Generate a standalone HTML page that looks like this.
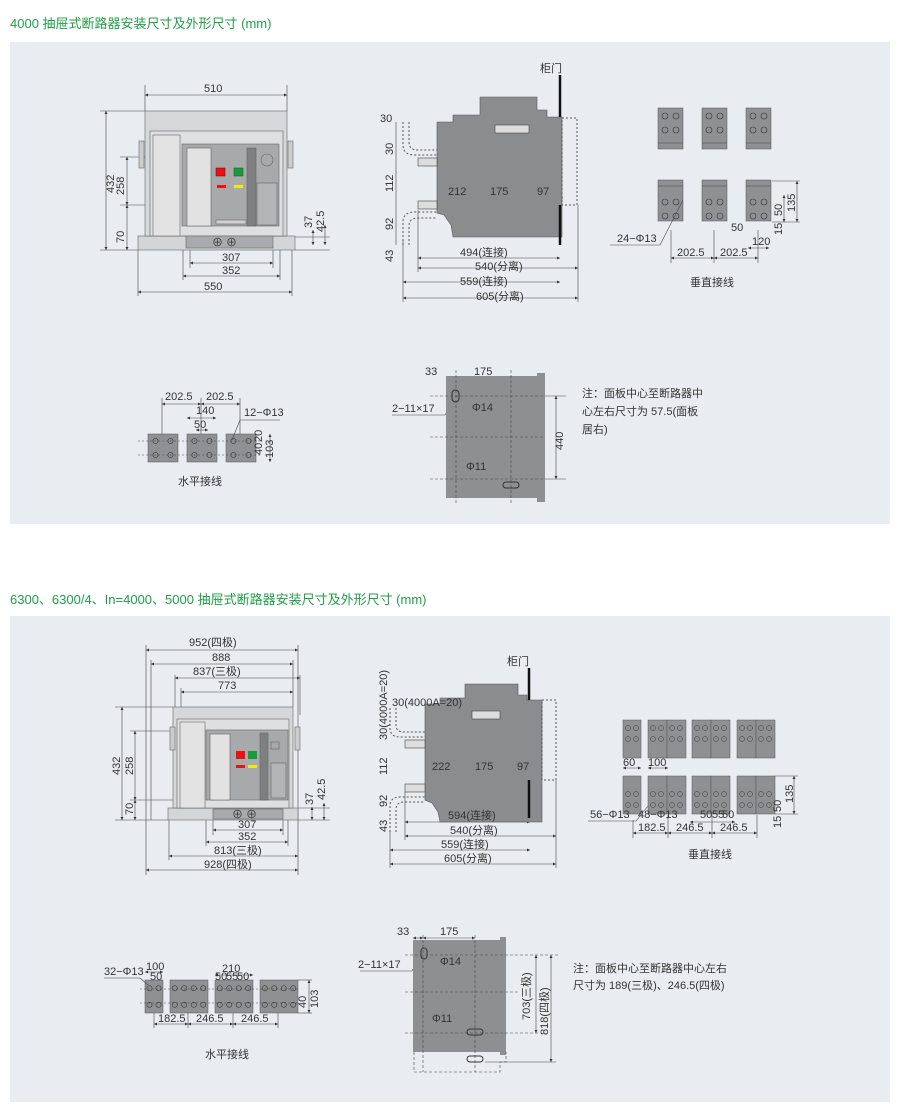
<!DOCTYPE html>
<html><head><meta charset="utf-8">
<style>
html,body{margin:0;padding:0;background:#fff;}
body{width:900px;height:1109px;overflow:hidden;position:relative;font-family:"Liberation Sans","Noto Sans CJK SC",sans-serif;}
.t{position:absolute;left:10px;color:#1fa046;font-size:13px;font-family:"Liberation Sans","Noto Sans CJK SC",sans-serif;white-space:nowrap;}
svg{position:absolute;left:0;top:0;}
svg text{font-family:"Liberation Sans","Noto Sans CJK SC",sans-serif;fill:#333;font-size:11px;}
</style></head><body>
<div class="t" style="top:13px">4000 抽屉式断路器安装尺寸及外形尺寸 (mm)</div>
<div class="t" style="top:589px">6300、6300/4、In=4000、5000 抽屉式断路器安装尺寸及外形尺寸 (mm)</div>
<svg id="s" width="900" height="1109" viewBox="0 0 900 1109">
<defs>
<marker id="a" viewBox="0 0 6 6" refX="6" refY="3" markerWidth="5" markerHeight="5" orient="auto-start-reverse"><path d="M0,0L6,3L0,6z" fill="#333"/></marker>
</defs>
<rect x="10" y="42" width="880" height="482" fill="#e9edf1"/>
<rect x="10" y="616" width="880" height="486" fill="#e9edf1"/>
<g id="g" stroke-width="0.8"></g>
<!-- ===== Front view 1 ===== -->
<g stroke="#666" stroke-width="0.6">
<rect x="138" y="236" width="157" height="14" fill="#d4d5d6"/>
<rect x="145" y="111" width="142" height="125" fill="#d6d7d8"/>
<rect x="150" y="131" width="133" height="105" fill="#dedfe0"/>
<rect x="153" y="135" width="27" height="101" fill="#e3e3e4"/>
<rect x="182" y="144" width="97" height="82" fill="#a8a9ab"/>
<rect x="187" y="148" width="24" height="78" fill="#e2e2e2"/>
<rect x="247" y="148" width="9" height="78" fill="#7e7f81"/>
<rect x="257" y="183" width="20" height="42" fill="#b3b4b6"/>
<circle cx="267" cy="160" r="6" fill="none"/>
<rect x="216" y="220" width="30" height="4" fill="#d0d0d0"/>
<rect x="186" y="236" width="87" height="12" fill="#a9aaac"/>
<rect x="139" y="141" width="5" height="27" fill="#ccc"/>
<rect x="288" y="141" width="5" height="27" fill="#ccc"/>
</g>
<rect x="216" y="168" width="9" height="8" fill="#e11" stroke="#600" stroke-width=".5"/>
<rect x="234" y="168" width="9" height="8" fill="#1a9a3a" stroke="#060" stroke-width=".5"/>
<rect x="217" y="185" width="9" height="3" fill="#e11"/>
<rect x="234" y="185" width="9" height="3" fill="#ee0"/>
<text x="212" y="246" font-size="10">⊕ ⊕</text>
<!-- ===== Side view 1 ===== -->
<polygon points="437,122 453,122 453,115 480,115 480,97 537,97 537,110 547,110 547,117 562,117 562,237 453,237 451,225 444,215 437,213" fill="#8b8c8e" stroke="#555" stroke-width=".6"/>
<rect x="495" y="125" width="34" height="8" fill="#ddd" stroke="#444" stroke-width=".6"/>
<rect x="418" y="158" width="19" height="8" fill="#ddd" stroke="#444" stroke-width=".6"/>
<rect x="418" y="201" width="19" height="8" fill="#ddd" stroke="#444" stroke-width=".6"/>
<line x1="560" y1="75" x2="560" y2="117" stroke="#111" stroke-width="2.5"/>
<line x1="560" y1="205" x2="560" y2="245" stroke="#111" stroke-width="2.5"/>
<rect x="562" y="118" width="15" height="87" fill="none" stroke="#555" stroke-dasharray="2,2"/>
<path d="M403,122 V145 Q403,155 415,155 H437 M409,122 V142 Q409,150 418,150 H437" fill="none" stroke="#555" stroke-dasharray="2,2"/>
<path d="M403,245 V222 Q403,212 415,212 H437 M409,245 V226 Q409,218 418,218 H437" fill="none" stroke="#555" stroke-dasharray="2,2"/>
<!-- ===== Panel view 1 ===== -->
<rect x="446" y="376" width="91" height="122" fill="#8e8f91"/>
<rect x="537" y="373" width="8" height="129" fill="#8e8f91"/>
<g stroke="#444" stroke-dasharray="3,2" stroke-width=".6" fill="none">
<line x1="430" y1="396" x2="545" y2="396"/><line x1="430" y1="437" x2="545" y2="437"/><line x1="430" y1="479" x2="545" y2="479"/>
<line x1="456" y1="370" x2="456" y2="505"/><line x1="511" y1="370" x2="511" y2="505"/>
</g>
<rect x="452" y="390" width="7" height="12" rx="3.5" fill="none" stroke="#333"/>
<rect x="503" y="482" width="16" height="6" rx="3" fill="none" stroke="#333"/>
<!-- ===== Front view 2 ===== -->
<g stroke="#666" stroke-width="0.6">
<rect x="168" y="808" width="130" height="12" fill="#d4d5d6"/>
<rect x="173" y="707" width="120" height="101" fill="#d6d7d8"/>
<rect x="177" y="719" width="112" height="89" fill="#dedfe0"/>
<rect x="180" y="722" width="25" height="86" fill="#e3e3e4"/>
<rect x="206" y="730" width="82" height="70" fill="#a8a9ab"/>
<rect x="210" y="734" width="20" height="66" fill="#e2e2e2"/>
<rect x="260" y="733" width="8" height="67" fill="#7e7f81"/>
<rect x="271" y="763" width="15" height="35" fill="#b3b4b6"/>
<rect x="271" y="742" width="8" height="7" fill="none"/>
<rect x="213" y="809" width="70" height="10" fill="#a9aaac"/>
<rect x="170" y="727" width="5" height="23" fill="#ccc"/>
<rect x="295" y="727" width="5" height="23" fill="#ccc"/>
</g>
<rect x="236" y="751" width="9" height="8" fill="#e11"/>
<rect x="248" y="751" width="9" height="8" fill="#1a9a3a"/>
<rect x="236" y="765" width="9" height="3" fill="#e11"/>
<rect x="248" y="765" width="9" height="3" fill="#ee0"/>
<text x="232" y="818" font-size="9">⊕ ⊕</text>
<!-- ===== Side view 2 ===== -->
<polygon points="425,704 440,704 440,698 465,698 465,684 518,684 518,695 527,695 527,700 542,700 542,822 440,822 438,812 432,803 425,800" fill="#8b8c8e" stroke="#555" stroke-width=".6"/>
<rect x="472" y="711" width="28" height="8" fill="#ddd" stroke="#444" stroke-width=".6"/>
<rect x="405" y="740" width="20" height="8" fill="#ddd" stroke="#444" stroke-width=".6"/>
<rect x="405" y="784" width="20" height="8" fill="#ddd" stroke="#444" stroke-width=".6"/>
<line x1="529" y1="668" x2="529" y2="700" stroke="#111" stroke-width="2.5"/>
<line x1="529" y1="780" x2="529" y2="818" stroke="#111" stroke-width="2.5"/>
<rect x="542" y="700" width="14" height="80" fill="none" stroke="#555" stroke-dasharray="2,2"/>
<path d="M390,708 V728 Q390,737 400,737 H425 M396,708 V725 Q396,732 404,732 H425" fill="none" stroke="#555" stroke-dasharray="2,2"/>
<path d="M390,832 V806 Q390,797 400,797 H425 M396,832 V810 Q396,802 404,802 H425" fill="none" stroke="#555" stroke-dasharray="2,2"/>
<!-- ===== Panel view 2 ===== -->
<rect x="413" y="940" width="88" height="112" fill="#8e8f91"/>
<rect x="500" y="937" width="6" height="118" fill="#8e8f91"/>
<g stroke="#444" stroke-dasharray="3,2" stroke-width=".6" fill="none">
<line x1="405" y1="955" x2="560" y2="955"/><line x1="405" y1="992" x2="520" y2="992"/><line x1="405" y1="1033" x2="540" y2="1033"/>
<line x1="423" y1="935" x2="423" y2="1072"/><line x1="475" y1="935" x2="475" y2="1072"/><line x1="414" y1="1052" x2="414" y2="1072"/>
<path d="M414,1072 H500 V1062 H506 V1052"/>
</g>
<rect x="421" y="948" width="6" height="11" rx="3" fill="none" stroke="#333"/>
<rect x="467" y="1029" width="16" height="6" rx="3" fill="none" stroke="#333"/>
<rect x="467" y="1056" width="16" height="6" rx="3" fill="none" stroke="#333"/>
<g id="txt"></g>
</svg>
<script>
var g=document.getElementById('g'),T=document.getElementById('txt'),NS='http://www.w3.org/2000/svg';
function el(tag,at,par){var e=document.createElementNS(NS,tag);for(var k in at)e.setAttribute(k,at[k]);(par||g).appendChild(e);return e;}
function mod(x,y,w,h,cols,rows){el('rect',{x:x,y:y,width:w,height:h,fill:'#8f9092',stroke:'#555','stroke-width':.5});
 for(var i=0;i<cols;i++)for(var j=0;j<rows;j++){var cx=x+w*(i+0.5)/cols,cy=y+h*(j+0.5)/rows;
  el('circle',{cx:cx,cy:cy,r:2.6,fill:'none',stroke:'#333','stroke-width':.6});}}
function line(x1,y1,x2,y2,ar,dash){var o={x1:x1,y1:y1,x2:x2,y2:y2,stroke:'#444','stroke-width':.6};if(ar){o['marker-start']='url(#a)';o['marker-end']='url(#a)';}if(dash)o['stroke-dasharray']='2,2';el('line',o);}
function tx(x,y,s,rot,sz){var o={x:x,y:y};if(sz)o['font-size']=sz;if(rot)o.transform='rotate(-90 '+x+' '+y+')';var e=el('text',o,T);e.textContent=s;}
// vertical conn 1
[[658,108],[702,108],[746,108],[658,180],[702,180],[746,180]].forEach(function(p){
 el('rect',{x:p[0],y:p[1],width:25,height:41,fill:'#8f9092',stroke:'#555','stroke-width':.5});
 var oy=p[1]<150?0:14;
 for(var i=0;i<2;i++)for(var j=0;j<2;j++)el('circle',{cx:p[0]+7+i*11,cy:p[1]+8+oy+j*14,r:3,fill:'none',stroke:'#333','stroke-width':.6});
 line(p[0],p[1]<150?p[1]+35:p[1]+6,p[0]+25,p[1]<150?p[1]+35:p[1]+6);});
// horizontal conn 1
[148,187,226].forEach(function(x){mod(x,434,30,28,2,2);});
line(138,441,262,441,0,1);line(138,455,262,455,0,1);
// vertical conn 2
[[623,720,18,1],[648,720,38,2],[692,720,38,2],[737,720,38,2],[623,776,18,1],[648,776,38,2],[692,776,38,2],[737,776,38,2]].forEach(function(p){
 var n=p[3];for(var k=0;k<n;k++){var w=p[2]/n,x=p[0]+k*w;el('rect',{x:x,y:p[1],width:w,height:38,fill:'#8f9092',stroke:'#555','stroke-width':.5});
 for(var i=0;i<2;i++)for(var j=0;j<2;j++)el('circle',{cx:x+5+i*8,cy:p[1]+(p[1]<760?8:18)+j*11,r:2.5,fill:'none',stroke:'#333','stroke-width':.5});}});
// horizontal conn 2
mod(145,980,18,33,2,2);mod(170,980,38,33,4,2);mod(215,980,38,33,4,2);mod(260,980,38,33,4,2);
line(140,989,300,989,0,1);line(140,1003,300,1003,0,1);
// ===== dimension lines =====
// front 1
line(145,95,287,95,1);line(145,85,145,111);line(287,85,287,111);
line(106,111,106,250,1);line(100,111,145,111);line(100,250,138,250);
line(127,157,127,205,1);line(127,205,127,250,1);line(120,157,180,157);line(120,205,150,205);
line(190,263,273,263,1);line(183,276,280,276,1);line(138,292,292,292,1);
line(190,248,190,268);line(273,248,273,268);line(183,248,183,280);line(280,248,280,280);line(138,250,138,296);line(292,250,292,296);
line(313,230,313,245,1);line(325,225,325,245,1);line(295,237,330,237);line(295,250,330,250);
tx(204,92,'510',0,12);tx(114,193,'432',1,12);tx(124,195,'258',1,11);tx(124,243,'70',1,11);
tx(222,261,'307',0,11);tx(222,274,'352',0,11);tx(204,290,'550',0,11);tx(312,228,'37',1,10);tx(324,232,'42.5',1,10);
// side 1
line(437,198,563,198,1);line(472,190,472,237);line(526,190,526,237);
line(418,258,560,258,1);line(418,268,578,268,1);line(403,282,560,282,1);line(403,298,578,298,1);
line(403,240,403,302);line(418,210,418,272);line(578,205,578,302);
line(396,122,396,245);
tx(448,195,'212');tx(490,195,'175');tx(537,195,'97');
tx(460,256,'494(连接)');tx(475,270,'540(分离)');tx(460,285,'559(连接)');tx(476,300,'605(分离)');
tx(380,122,'30');tx(393,155,'30',1);tx(393,192,'112',1);tx(393,230,'92',1);tx(393,262,'43',1);
tx(540,72,'柜门',0,11);
// vertical conn 1 labels
tx(617,242,'24−Φ13',0,11);line(610,245,660,245);line(660,245,683,200);
line(671,230,671,263);line(714,230,714,263);line(758,230,758,263);
line(671,258,714,258,1);line(714,258,758,258,1);tx(677,256,'202.5',0,11);tx(720,256,'202.5',0,11);
tx(752,245,'120',0,11);tx(731,231,'50',0,11);line(748,248,769,248,1);
line(772,181,800,181);line(772,222,800,222);line(797,181,797,222,1);line(784,195,784,222,1);
tx(795,212,'135',1,10);tx(782,216,'50',1,10);tx(782,235,'15',1,10);
tx(690,286,'垂直接线',0,11);
// horiz conn 1 labels
tx(165,400,'202.5',0,11);tx(206,400,'202.5',0,11);tx(196,414,'140',0,11);tx(194,428,'50',0,11);
line(162,404,201,404,1);line(201,404,240,404,1);line(187,418,216,418,1);line(196,430,208,430,1);
line(162,398,162,434);line(201,398,201,434);line(240,398,240,434);
tx(244,416,'12−Φ13',0,11);line(240,420,280,420);line(240,420,232,440);
tx(262,442,'20',1,9);tx(262,455,'40',1,9);tx(273,458,'103',1,10);line(270,434,270,462,1);
tx(178,485,'水平接线',0,11);
// panel 1 labels
tx(425,375,'33',0,11);tx(474,375,'175',0,11);line(446,379,456,379,1);line(456,379,511,379,1);
tx(392,412,'2−11×17',0,10);line(392,415,445,415);line(445,415,455,398);
tx(472,411,'Φ14',0,10);line(470,414,500,414);line(500,414,520,385);
tx(466,470,'Φ11',0,10);line(462,473,480,473);line(470,473,450,492);
line(556,396,556,479,1);line(545,396,566,396);line(545,479,566,479);tx(563,450,'440',1,11);
tx(582,397,'注：面板中心至断路器中',0,12);tx(582,415,'心左右尺寸为 57.5(面板',0,12);tx(582,433,'居右)',0,12);
// front 2
line(146,650,298,650,1);line(151,664,293,664,1);line(175,678,300,678,1);line(181,692,293,692,1);
line(146,645,146,875);line(151,660,151,820,1&&0);line(175,675,175,707);line(181,688,181,707);line(298,645,298,875);line(293,660,293,707);line(300,675,300,715);
tx(189,646,'952(四极)');tx(212,661,'888');tx(193,675,'837(三极)');tx(218,689,'773');
line(122,707,122,820,1);line(115,707,173,707);line(115,820,168,820);
line(135,731,135,800,1);line(135,800,135,820,1);line(130,731,206,731);line(130,800,180,800);
tx(120,775,'432',1,11);tx(133,775,'258',1,11);tx(133,815,'70',1,11);
line(213,830,283,830,1);line(206,842,288,842,1);line(169,856,298,856,1);line(146,870,298,870,1);
line(213,820,213,835);line(283,820,283,835);line(206,820,206,846);line(288,820,288,846);line(169,820,169,860);
tx(238,828,'307');tx(238,840,'352');tx(214,854,'813(三极)');tx(204,868,'928(四极)');
tx(313,805,'37',1,10);tx(325,800,'42.5',1,10);line(312,807,312,820,1);line(324,803,324,820,1);line(298,808,330,808);line(298,820,330,820);
// side 2
line(425,772,542,772,1);line(462,765,462,822);line(513,765,513,822);
tx(432,770,'222');tx(475,770,'175');tx(517,770,'97');
line(405,822,530,822,1);line(405,836,556,836,1);line(390,850,530,850,1);line(390,864,556,864,1);
line(390,830,390,868);line(405,792,405,840);line(556,780,556,868);
tx(448,819,'594(连接)');tx(450,834,'540(分离)');tx(441,848,'559(连接)');tx(444,862,'605(分离)');
tx(387,740,'30(4000A=20)',1,10);tx(392,706,'30(4000A=20)',0,9);tx(387,775,'112',1,10);tx(387,807,'92',1,10);tx(387,832,'43',1,10);
tx(507,665,'柜门',0,11);
// vertical conn 2 labels
tx(623,766,'60',0,9);tx(648,766,'100',0,10);line(623,768,641,768,1);line(648,768,668,768,1);
tx(590,818,'56−Φ13',0,10);tx(638,818,'48−Φ13',0,10);line(588,821,636,821);line(636,821,648,806);
tx(700,818,'50',0,8);tx(712,818,'55',0,8);tx(722,818,'50',0,8);line(690,822,735,822,1);
line(633,833,668,833,1);line(668,833,712,833,1);line(712,833,757,833,1);
line(633,820,633,838);line(668,815,668,838);line(712,815,712,838);line(757,815,757,838);
tx(638,831,'182.5',0,11);tx(676,831,'246.5',0,11);tx(720,831,'246.5',0,11);
line(775,776,798,776);line(775,814,798,814);line(794,776,794,814,1);tx(793,803,'135',1,10);tx(781,812,'50',1,9);tx(781,828,'15',1,9);
tx(688,858,'垂直接线',0,11);
// horiz conn 2 labels
tx(104,975,'32−Φ13',0,11);line(104,978,140,978);line(140,978,148,985);
tx(146,970,'100',0,11);tx(150,980,'50',0,9);line(145,972,163,972,1);
tx(222,972,'210',0,11);tx(215,980,'50',0,8);tx(226,980,'55',0,8);tx(237,980,'50',0,8);line(215,975,253,975,1);
line(154,1024,188,1024,1);line(188,1024,233,1024,1);line(233,1024,278,1024,1);
line(154,1013,154,1028);line(188,1013,188,1028);line(233,1013,233,1028);line(278,1013,278,1028);
tx(158,1022,'182.5',0,11);tx(196,1022,'246.5',0,11);tx(241,1022,'246.5',0,11);
line(309,980,309,1013,1);line(298,980,312,980);line(298,1013,312,1013);tx(306,1008,'40',1,10);tx(318,1008,'103',1,10);
tx(205,1058,'水平接线',0,11);
// panel 2 labels
tx(397,935,'33',0,11);tx(440,935,'175',0,11);line(413,938,423,938,1);line(423,938,475,938,1);
tx(358,968,'2−11×17',0,10);line(360,971,412,971);line(412,971,421,955);
tx(440,965,'Φ14',0,10);line(437,968,465,968);line(465,968,478,950);
tx(432,1022,'Φ11',0,10);line(428,1025,445,1025);line(445,1025,413,1045);
line(536,955,536,1033,1);line(551,955,551,1062,1);line(485,1062,556,1062);
tx(530,1020,'703(三极)',1,10);tx(548,1035,'818(四极)',1,10);
tx(573,972,'注：面板中心至断路器中心左右',0,10);tx(573,989,'尺寸为 189(三极)、246.5(四极)',0,10);
</script>
</body></html>
